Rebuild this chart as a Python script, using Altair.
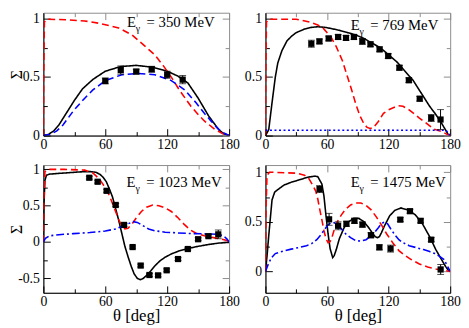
import altair as alt
import pandas as pd

SERIF = "'Liberation Serif', 'Times New Roman', Times, 'DejaVu Serif', serif"
GRAY = "#8c8c8c"

# ---------------- Panel 1 : E = 350 MeV ----------------
p1_black_t = [0, 5, 10, 15, 20, 25, 30, 38, 48, 60, 75, 90, 105, 120, 130, 140, 150, 160, 170, 175, 180]
p1_black_s = [0, 0.01, 0.04, 0.09, 0.16, 0.23, 0.30, 0.40, 0.48, 0.55, 0.59, 0.60, 0.585, 0.55, 0.51, 0.45, 0.32, 0.17, 0.05, 0.015, 0]
p1_red_t = [0, 0.3, 1, 3, 22, 40, 54, 73, 86, 99, 108, 116, 124, 131, 143, 150, 156, 166, 175, 180]
p1_red_s = [0, 0.5, 0.97, 0.995, 0.99, 0.98, 0.96, 0.92, 0.86, 0.76, 0.69, 0.60, 0.50, 0.40, 0.25, 0.18, 0.125, 0.055, 0.01, 0]
p1_blue_t = [0, 7, 13, 19, 29, 38, 48, 60, 76, 92, 108, 124, 137, 148, 156, 162, 168, 173, 180]
p1_blue_s = [0, 0.01, 0.04, 0.09, 0.21, 0.30, 0.39, 0.47, 0.52, 0.53, 0.52, 0.47, 0.39, 0.28, 0.19, 0.13, 0.07, 0.03, 0]
p1_pt_t = [60, 75, 90, 105, 120, 135]
p1_pt_s = [0.467, 0.56, 0.547, 0.567, 0.52, 0.478]
p1_pt_e = [0.025, 0.035, 0.02, 0.025, 0.03, 0.035]

# ---------------- Panel 2 : E = 769 MeV ----------------
p2_black_t = [0, 3.2, 6.4, 9.6, 12, 16, 21, 25.5, 30, 38, 45, 51, 58, 64, 72, 80, 88, 96, 104, 112, 120, 128, 136, 144, 152, 160, 166, 172, 176, 178, 180]
p2_black_s = [0, 0.05, 0.28, 0.50, 0.62, 0.725, 0.81, 0.85, 0.88, 0.91, 0.925, 0.93, 0.925, 0.915, 0.90, 0.88, 0.86, 0.83, 0.79, 0.75, 0.69, 0.63, 0.55, 0.47, 0.36, 0.25, 0.18, 0.10, 0.04, 0.01, 0]
p2_red_t = [0, 0.3, 1, 3, 30, 43, 51, 56, 64, 69, 75, 80, 84, 88, 92, 96, 99, 102, 105, 110, 115, 120, 129, 134, 140, 150, 156, 164, 172, 177, 180]
p2_red_s = [0, 0.5, 0.97, 0.995, 0.995, 0.97, 0.945, 0.92, 0.84, 0.76, 0.64, 0.50, 0.39, 0.27, 0.17, 0.10, 0.07, 0.06, 0.067, 0.12, 0.19, 0.22, 0.255, 0.25, 0.22, 0.15, 0.11, 0.055, 0.035, 0.01, 0]
p2_blue_t = [0, 176, 180]
p2_blue_s = [0.045, 0.045, 0]
p2_pt_t = [44.7, 52.6, 61.6, 70.8, 78.5, 86.2, 94.4, 102.3, 111.2, 119.6, 130.5, 139.7, 150.3, 161.5, 170.6]
p2_pt_s = [0.785, 0.805, 0.83, 0.843, 0.835, 0.843, 0.805, 0.78, 0.737, 0.68, 0.58, 0.473, 0.315, 0.15, 0.137]
p2_pt_e = [0.03, 0.02, 0.02, 0.02, 0.02, 0.02, 0.025, 0.02, 0.02, 0.02, 0.02, 0.02, 0.02, 0.03, 0.085]

# ---------------- Panel 3 : E = 1023 MeV ----------------
p3_black_t = [0, 0.5, 1.5, 3, 6, 15, 25, 35, 45, 51, 55, 58, 61, 64, 67, 70, 73, 76, 79, 82, 85, 88, 91, 94, 97, 100, 104, 108, 113, 118, 124, 132, 140, 150, 160, 170, 180]
p3_black_s = [0, 0.5, 0.85, 0.92, 0.935, 0.945, 0.955, 0.965, 0.97, 0.96, 0.93, 0.89, 0.83, 0.73, 0.62, 0.46, 0.30, 0.12, -0.06, -0.2, -0.33, -0.44, -0.5, -0.52, -0.5, -0.46, -0.4, -0.33, -0.26, -0.21, -0.165, -0.12, -0.09, -0.06, -0.035, -0.015, -0.005]
p3_red_t = [0, 0.5, 1.5, 4, 20, 40, 48, 54, 58, 61, 64, 67, 70, 73, 76, 79, 82, 86, 90, 95, 100, 106, 112, 118, 124, 130, 136, 142, 148, 156, 165, 172, 178, 180]
p3_red_s = [0, 0.6, 0.97, 1.0, 1.0, 0.99, 0.95, 0.87, 0.79, 0.72, 0.64, 0.53, 0.42, 0.31, 0.22, 0.18, 0.19, 0.25, 0.33, 0.42, 0.48, 0.51, 0.5, 0.47, 0.42, 0.34, 0.25, 0.17, 0.12, 0.085, 0.06, 0.04, 0.02, 0]
p3_blue_t = [0, 2, 6, 15, 29, 45, 60, 70, 77, 82, 87, 91, 96, 102, 108, 118, 130, 145, 160, 170, 175, 178, 180]
p3_blue_s = [0, 0.05, 0.085, 0.1, 0.115, 0.13, 0.15, 0.18, 0.22, 0.25, 0.28, 0.27, 0.23, 0.18, 0.155, 0.135, 0.125, 0.115, 0.11, 0.105, 0.08, 0.04, 0]
p3_pt_t = [44.5, 52.6, 61.3, 70.1, 78.2, 86.5, 94.3, 102.8, 111.2, 119.5, 130.5, 140, 150, 160, 169.5]
p3_pt_s = [0.885, 0.83, 0.705, 0.51, 0.235, -0.07, -0.325, -0.455, -0.46, -0.39, -0.235, -0.097, 0.038, 0.08, 0.105]
p3_pt_e = [0.02, 0.02, 0.02, 0.02, 0.02, 0.015, 0.02, 0.02, 0.02, 0.02, 0.02, 0.015, 0.02, 0.02, 0.06]

# ---------------- Panel 4 : E = 1475 MeV ----------------
p4_black_t = [0, 1.5, 3.2, 6.4, 9, 12.8, 18, 25.5, 32, 41.5, 48, 51, 55, 57, 59, 61, 63, 65.5, 67, 69, 72, 76.6, 81, 86, 91, 96, 100, 104, 107, 109, 111, 113, 116, 121, 126, 132, 140, 146, 153, 160, 166, 171, 175.5, 178, 180]
p4_black_s = [0, 0.15, 0.36, 0.72, 0.8, 0.83, 0.87, 0.9, 0.92, 0.95, 0.96, 0.955, 0.88, 0.76, 0.56, 0.38, 0.23, 0.14, 0.16, 0.22, 0.33, 0.44, 0.5, 0.535, 0.535, 0.5, 0.45, 0.39, 0.35, 0.34, 0.35, 0.39, 0.46, 0.56, 0.615, 0.64, 0.615, 0.57, 0.48, 0.35, 0.22, 0.13, 0.05, 0.015, 0]
p4_red_t = [0, 0.5, 1.5, 4, 30, 38, 42, 46, 49, 51, 53, 55, 57, 59, 61, 63, 65, 67, 70, 74, 78, 83, 88, 93, 98, 103, 108, 113, 118, 124, 130, 136, 142, 150, 158, 166, 174, 180]
p4_red_s = [0, 0.6, 0.97, 1.0, 0.99, 0.97, 0.94, 0.87, 0.81, 0.73, 0.62, 0.52, 0.41, 0.33, 0.29, 0.3, 0.35, 0.42, 0.5, 0.57, 0.625, 0.67, 0.69, 0.69, 0.665, 0.62, 0.55, 0.47, 0.38, 0.29, 0.21, 0.16, 0.12, 0.075, 0.045, 0.025, 0.01, 0]
p4_blue_t = [0, 3, 6, 9.6, 14, 19, 25, 32, 40, 45, 50, 54, 58, 61, 64, 67, 70, 74, 78, 83, 88, 93, 98, 102, 106, 110, 113, 116, 119, 122, 126, 130, 134, 140, 147, 154, 160, 165, 170, 174, 177, 180]
p4_blue_s = [0, 0.08, 0.14, 0.18, 0.195, 0.21, 0.225, 0.24, 0.26, 0.28, 0.32, 0.37, 0.43, 0.47, 0.49, 0.49, 0.47, 0.43, 0.38, 0.34, 0.31, 0.305, 0.32, 0.35, 0.39, 0.44, 0.48, 0.5, 0.48, 0.43, 0.37, 0.32, 0.29, 0.26, 0.24, 0.22, 0.2, 0.18, 0.15, 0.12, 0.06, 0]
p4_pt_t = [52.7, 62, 70.8, 78.9, 86.7, 94.5, 102.8, 111, 121.9, 131.4, 140.8, 151.2, 161.5, 170.7]
p4_pt_s = [0.83, 0.525, 0.46, 0.48, 0.51, 0.472, 0.365, 0.243, 0.23, 0.522, 0.607, 0.51, 0.32, 0.02]
p4_pt_e = [0.035, 0.06, 0.04, 0.025, 0.025, 0.025, 0.025, 0.025, 0.035, 0.02, 0.02, 0.02, 0.02, 0.05]

energies = ["350", "769", "1023", "1475"]

SERIES = ["black", "red", "blue_dash", "blue_dot", "blue_dashdot"]
SER_COLOR = ["#000000", "#ff0000", "#0000ff", "#0000ff", "#0000ff"]
SER_DASH = [[1, 0], [7, 4], [7, 4], [2, 2.6], [8, 3, 2, 3]]
SER_WIDTH = [1.6, 1.6, 1.6, 2.2, 1.6]

X_MAJ = [0, 60, 120, 180]
X_MIN = [30, 90, 150]


def curves_df(items):
    rows = []
    for name, ts, ss in items:
        for i, (t, s) in enumerate(zip(ts, ss)):
            rows.append({"theta": t, "sigma": s, "series": name, "idx": i})
    return pd.DataFrame(rows)


def panel(items, pt_t, pt_s, pt_e, ydom, ymaj, ymin, energy, lab_t, lab_s, w, h, xtitle, ytitle):
    xs = alt.Scale(domain=[0, 180], nice=False, zero=False)
    ys = alt.Scale(domain=ydom, nice=False, zero=False)
    cdf = curves_df(items)
    pdf = pd.DataFrame({"theta": pt_t, "sigma": pt_s,
                        "lo": [s - e for s, e in zip(pt_s, pt_e)],
                        "hi": [s + e for s, e in zip(pt_s, pt_e)]})
    caps = pd.DataFrame({"theta": pt_t + pt_t,
                         "sigma": [s - e for s, e in zip(pt_s, pt_e)] + [s + e for s, e in zip(pt_s, pt_e)]})

    xmain = alt.Axis(orient="bottom", values=X_MAJ, ticks=False, grid=False, domainColor="black",
                     domainWidth=1, labelFont=SERIF, labelFontSize=14, labelColor="black",
                     labelFlush=False, labelPadding=2, labelExpr="'' + datum.value",
                     title=xtitle, titleFont=SERIF, titleFontSize=17, titleFontWeight="normal",
                     titleColor="black", titlePadding=-1)
    ymain = alt.Axis(orient="left", values=ymaj, ticks=False, grid=False, domainColor="black",
                     domainWidth=1, labelFont=SERIF, labelFontSize=14, labelColor="black",
                     labelFlush=False, labelPadding=4, labelExpr="'' + datum.value",
                     minExtent=0,
                     title=ytitle, titleFont=SERIF, titleFontSize=16, titleFontWeight="normal",
                     titleColor="black", titleX=-35, titleBaseline="top")

    lines = alt.Chart(cdf).mark_line(clip=True).encode(
        x=alt.X("theta:Q", scale=xs, axis=xmain),
        y=alt.Y("sigma:Q", scale=ys, axis=ymain),
        color=alt.Color("series:N", scale=alt.Scale(domain=SERIES, range=SER_COLOR), legend=None),
        strokeDash=alt.StrokeDash("series:N", scale=alt.Scale(domain=SERIES, range=SER_DASH), legend=None),
        strokeWidth=alt.StrokeWidth("series:N", scale=alt.Scale(domain=SERIES, range=SER_WIDTH), legend=None),
        detail="series:N",
        order="idx:Q",
    )

    def tick_layer(xo, yo, xv, yv, size, color):
        xa = alt.Axis(orient=xo, values=xv, ticks=True, tickSize=size, tickColor=color, tickWidth=1,
                      offset=-size, domain=False, labels=False, grid=False, title=None,
                      minExtent=0, maxExtent=0)
        ya = alt.Axis(orient=yo, values=yv, ticks=True, tickSize=size, tickColor=color, tickWidth=1,
                      offset=-size, domain=False, labels=False, grid=False, title=None,
                      minExtent=0, maxExtent=0)
        return alt.Chart(pdf).mark_point(opacity=0).encode(
            x=alt.X("theta:Q", scale=xs, axis=xa),
            y=alt.Y("sigma:Q", scale=ys, axis=ya),
        )

    t1 = tick_layer("bottom", "left", X_MAJ, ymaj, 7, "black")
    t2 = tick_layer("bottom", "left", X_MIN, ymin, 4, "black")
    t3 = tick_layer("top", "right", X_MAJ, ymaj, 7, GRAY)
    t4 = tick_layer("top", "right", X_MIN, ymin, 4, GRAY)

    bars = alt.Chart(pdf).mark_rule(color="black", strokeWidth=1).encode(
        x=alt.X("theta:Q", scale=xs, axis=None),
        y=alt.Y("lo:Q", scale=ys, axis=None),
        y2="hi:Q",
    )
    capm = alt.Chart(caps).mark_tick(color="black", orient="horizontal", size=7, thickness=1).encode(
        x=alt.X("theta:Q", scale=xs, axis=None),
        y=alt.Y("sigma:Q", scale=ys, axis=None),
    )
    pts = alt.Chart(pdf).mark_square(color="black", size=40, opacity=1).encode(
        x=alt.X("theta:Q", scale=xs, axis=None),
        y=alt.Y("sigma:Q", scale=ys, axis=None),
    )

    tdf = pd.DataFrame({"theta": [lab_t], "sigma": [lab_s], "e": ["E"], "g": ["γ"],
                        "rest": ["= " + energy + " MeV"]})

    def txt(field, dx, dy, size):
        return alt.Chart(tdf).mark_text(align="left", baseline="alphabetic", font=SERIF,
                                        fontSize=size, color="black", dx=dx, dy=dy).encode(
            x=alt.X("theta:Q", scale=xs, axis=None),
            y=alt.Y("sigma:Q", scale=ys, axis=None),
            text=field + ":N",
        )

    lab = txt("e", 0, 0, 15) + txt("g", 9, 5, 10) + txt("rest", 20, 0, 15)

    return alt.layer(lines, t1, t2, t3, t4, bars, capm, pts, lab).resolve_axis(
        x="independent", y="independent").properties(width=w, height=h)


c1 = panel([("black", p1_black_t, p1_black_s), ("red", p1_red_t, p1_red_s),
            ("blue_dash", p1_blue_t, p1_blue_s)],
           p1_pt_t, p1_pt_s, p1_pt_e, [0, 1.05], [0, 0.5, 1], [0.25, 0.75],
           energies[0], 81, 0.93, 189, 125, None, "Σ")
c2 = panel([("black", p2_black_t, p2_black_s), ("red", p2_red_t, p2_red_s),
            ("blue_dot", p2_blue_t, p2_blue_s)],
           p2_pt_t, p2_pt_s, p2_pt_e, [0, 1.05], [0, 0.5, 1], [0.25, 0.75],
           energies[1], 83, 0.9, 188, 125, None, None)
c3 = panel([("black", p3_black_t, p3_black_s), ("red", p3_red_t, p3_red_s),
            ("blue_dashdot", p3_blue_t, p3_blue_s)],
           p3_pt_t, p3_pt_s, p3_pt_e, [-0.7, 1.06], [-0.5, 0, 0.5, 1], [-0.25, 0.25, 0.75],
           energies[2], 80.6, 0.76, 189, 130, "θ [deg]", "Σ")
c4 = panel([("black", p4_black_t, p4_black_s), ("red", p4_red_t, p4_red_s),
            ("blue_dashdot", p4_blue_t, p4_blue_s)],
           p4_pt_t, p4_pt_s, p4_pt_e, [-0.215, 1.072], [0, 0.5, 1], [0.25, 0.75],
           energies[3], 83, 0.85, 188, 130, "θ [deg]", None)

chart = alt.concat(c1, c2, c3, c4, columns=2, spacing={"row": 30, "column": 37}, bounds="flush").configure_view(
    stroke=GRAY, strokeWidth=1).properties(padding=0, background="white")

chart.save("out.html", embed_options={"renderer": "svg", "actions": False})
